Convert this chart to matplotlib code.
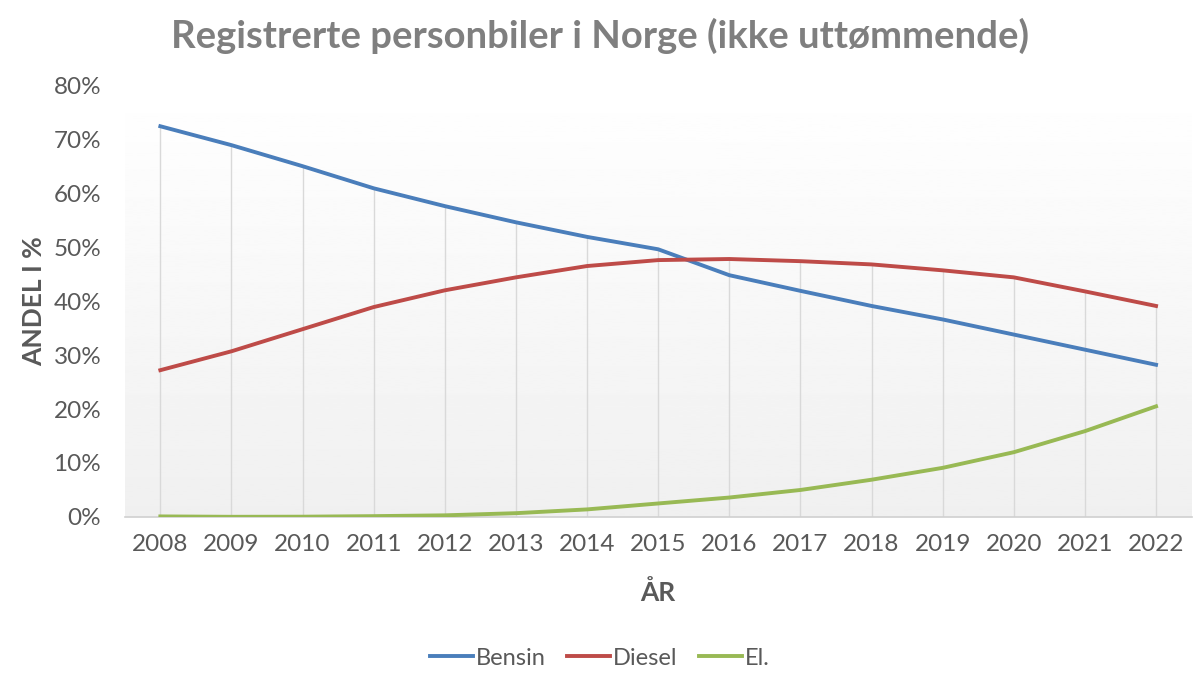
import numpy as np
import matplotlib.pyplot as plt
from matplotlib.ticker import PercentFormatter

# Andel registrerte personbiler
years = ['2008', '2009', '2010', '2011', '2012', '2013', '2014', '2015',
         '2016', '2017', '2018', '2019', '2020', '2021', '2022']
bensin = [72.4, 68.9, 65.0, 60.9, 57.6, 54.6, 51.9, 49.6,
          44.8, 41.9, 39.1, 36.6, 33.8, 31.0, 28.2]
diesel = [27.2, 30.7, 34.8, 38.9, 42.0, 44.4, 46.5, 47.6,
          47.8, 47.4, 46.8, 45.7, 44.4, 41.8, 39.1]
el = [0.1, 0.03, 0.05, 0.15, 0.3, 0.7, 1.4, 2.5,
      3.6, 5.0, 6.9, 9.1, 12.0, 15.9, 20.5]

plt.rcParams['font.family'] = ['Lato', 'DejaVu Sans']

fig = plt.figure(figsize=(12, 6.82), dpi=100)
ax = fig.add_axes([0.104, 0.242, 0.889, 0.633])

x = np.arange(len(years))

# bakgrunn med svak gradient
grad = np.linspace(1.0, 0.94, 256).reshape(-1, 1)
ax.imshow(grad, cmap='gray', vmin=0, vmax=1, aspect='auto',
          extent=[0, 1, 0, 1], transform=ax.transAxes, zorder=0)

# loddlinjer fra høyeste verdi ned til aksen
top = np.max([bensin, diesel, el], axis=0)
ax.vlines(x, 0, top, color='#d9d9d9', lw=1, zorder=1)

ax.plot(x, bensin, color='#4a7ebb', lw=2.8, label='Bensin', zorder=3)
ax.plot(x, diesel, color='#be4b48', lw=2.8, label='Diesel', zorder=3)
ax.plot(x, el, color='#98b954', lw=2.8, label='El.', zorder=3)

ax.set_xlim(-0.5, len(years) - 0.5)
ax.set_ylim(0, 80)
ax.set_yticks(np.arange(0, 81, 10))
ax.yaxis.set_major_formatter(PercentFormatter(decimals=0))
ax.set_xticks(x)
ax.set_xticklabels(years)

for s in ['top', 'right', 'left']:
    ax.spines[s].set_visible(False)
ax.spines['bottom'].set_color('#d0d0d0')
ax.spines['bottom'].set_linewidth(1.2)
ax.tick_params(axis='both', length=0, labelsize=17.5, colors='#595959')
ax.tick_params(axis='x', pad=12)
ax.tick_params(axis='y', pad=17)

ax.set_ylabel('ANDEL I %', fontsize=19, fontweight='bold', color='#595959', labelpad=5)
ax.set_xlabel('ÅR', fontsize=19, fontweight='bold', color='#595959', labelpad=18)

fig.text(0.5, 0.948, 'Registrerte personbiler i Norge (ikke uttømmende)',
         ha='center', va='center', fontsize=27.5, fontweight='bold', color='#7f7f7f')

fig.legend(loc='center', bbox_to_anchor=(0.5, 0.035), ncol=3, frameon=False,
           fontsize=17, handlelength=1.8, handletextpad=0.15, columnspacing=0.9,
           labelcolor='#595959')

fig.savefig('out.png', dpi=100)
